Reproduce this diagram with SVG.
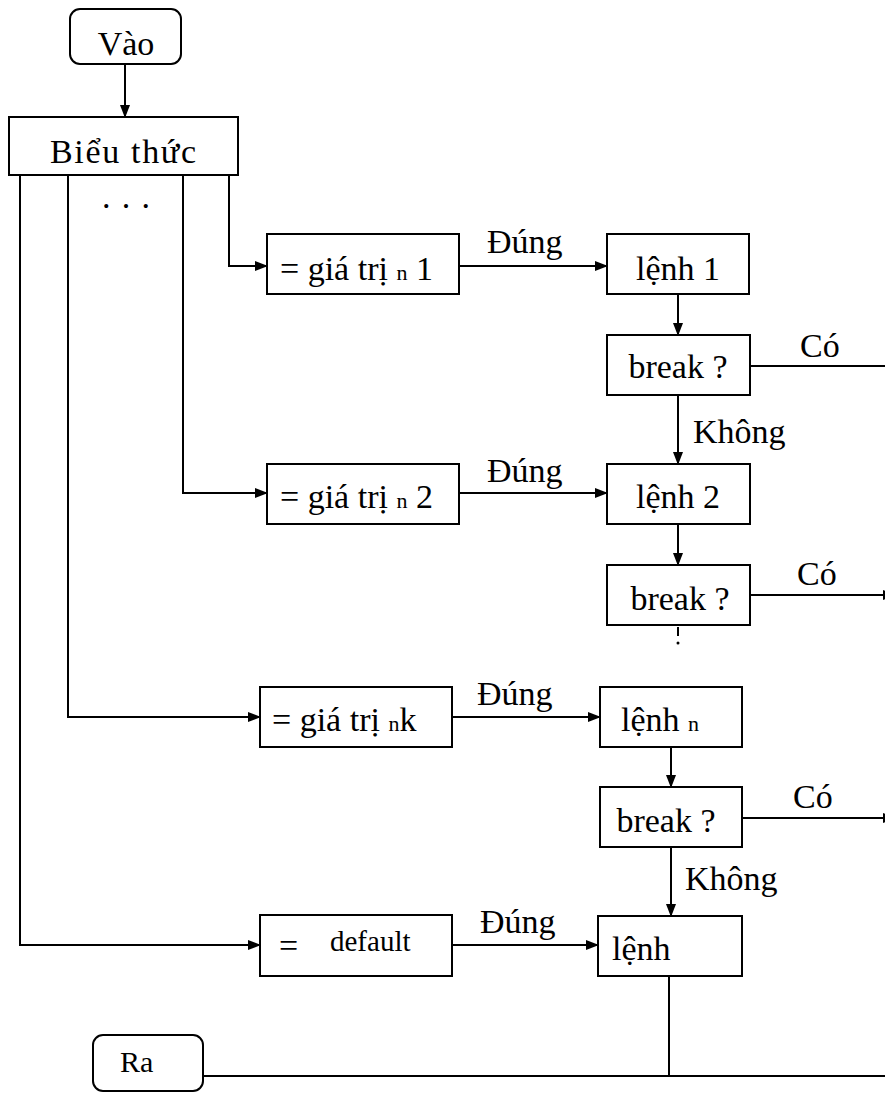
<svg xmlns="http://www.w3.org/2000/svg" width="885" height="1093" viewBox="0 0 885 1093" font-family="'Liberation Serif', 'Times New Roman', serif">
<style>
.b{fill:#fff;stroke:#000;stroke-width:2}
.c{fill:none;stroke:#000;stroke-width:2}
.t{font-family:'Liberation Serif','Times New Roman',serif;font-size:34px;fill:#000}
.s{font-size:22px}
.m{text-anchor:middle}
</style>
<defs>
<marker id="a" markerWidth="13" markerHeight="10" refX="12" refY="5" orient="auto" markerUnits="userSpaceOnUse">
<path d="M0,0 L13,5 L0,10 Z" fill="#000"/>
</marker>
</defs>
<rect width="885" height="1093" fill="#fff"/>
<g id="connectors">
<path class="c" d="M125,65 V117" marker-end="url(#a)"/>
<path class="c" d="M229,175 V266 H267" marker-end="url(#a)"/>
<path class="c" d="M183,175 V493 H267" marker-end="url(#a)"/>
<path class="c" d="M68,175 V717 H260" marker-end="url(#a)"/>
<path class="c" d="M20,175 V945 H260" marker-end="url(#a)"/>
<path class="c" d="M459,266 H607" marker-end="url(#a)"/>
<path class="c" d="M678,295 V335" marker-end="url(#a)"/>
<path class="c" d="M750,366 H885"/>
<path class="c" d="M678,395 V464" marker-end="url(#a)"/>
<path class="c" d="M459,493 H607" marker-end="url(#a)"/>
<path class="c" d="M678,524 V565" marker-end="url(#a)"/>
<path class="c" d="M750,595 H895" marker-end="url(#a)"/>
<path class="c" d="M678,627 V636"/>
<circle cx="678" cy="643" r="1.5" fill="#000"/>
<path class="c" d="M452,717 H600" marker-end="url(#a)"/>
<path class="c" d="M671,747 V787" marker-end="url(#a)"/>
<path class="c" d="M742,818 H895" marker-end="url(#a)"/>
<path class="c" d="M671,847 V916" marker-end="url(#a)"/>
<path class="c" d="M452,945 H598" marker-end="url(#a)"/>
<path class="c" d="M669,976 V1076"/>
<path class="c" d="M203,1076 H885"/>
<text class="t" x="487" y="253">Đúng</text>
<text class="t" x="487" y="482">Đúng</text>
<text class="t" x="477" y="705">Đúng</text>
<text class="t" x="480" y="933">Đúng</text>
<text class="t" x="800" y="357">Có</text>
<text class="t" x="797" y="585">Có</text>
<text class="t" x="793" y="808">Có</text>
<text class="t" x="693" y="443">Không</text>
<text class="t" x="685" y="890">Không</text>
<text class="t" x="102" y="208" textLength="48">. . .</text>
</g>
<g id="vao"><rect class="b" x="70" y="9" width="111" height="55" rx="10"/><text class="t m" x="126" y="55">Vào</text></g>
<g id="bieuthuc"><rect class="b" x="9" y="117" width="229" height="58"/><text class="t" x="50" y="163" textLength="146">Biểu thức</text></g>
<g id="gt1"><rect class="b" x="267" y="234" width="192" height="60"/><text class="t" x="280" y="280">= giá trị <tspan class="s">n</tspan> 1</text></g>
<g id="lenh1"><rect class="b" x="607" y="234" width="142" height="60"/><text class="t m" x="678" y="280">lệnh 1</text></g>
<g id="break1"><rect class="b" x="607" y="335" width="143" height="60"/><text class="t m" x="678" y="378">break ?</text></g>
<g id="gt2"><rect class="b" x="267" y="464" width="192" height="60"/><text class="t" x="280" y="508">= giá trị <tspan class="s">n</tspan> 2</text></g>
<g id="lenh2"><rect class="b" x="607" y="464" width="143" height="60"/><text class="t m" x="678" y="508">lệnh 2</text></g>
<g id="break2"><rect class="b" x="607" y="565" width="143" height="60"/><text class="t m" x="680" y="610">break ?</text></g>
<g id="gtk"><rect class="b" x="260" y="687" width="192" height="60"/><text class="t" x="272" y="731">= giá trị <tspan class="s">n</tspan>k</text></g>
<g id="lenhn"><rect class="b" x="600" y="687" width="142" height="60"/><text class="t" x="621" y="731">lệnh  <tspan class="s">n</tspan></text></g>
<g id="break3"><rect class="b" x="600" y="787" width="142" height="60"/><text class="t m" x="666" y="832">break ?</text></g>
<g id="default"><rect class="b" x="260" y="915" width="192" height="61"/><text class="t" x="279" y="957">=</text><text class="t" x="330" y="951" style="font-size:29px">default</text></g>
<g id="lenh"><rect class="b" x="598" y="916" width="144" height="60"/><text class="t" x="612" y="960">lệnh</text></g>
<g id="ra"><rect class="b" x="93" y="1035" width="110" height="56" rx="10"/><text class="t" x="120" y="1072" style="font-size:30px">Ra</text></g>
</svg>
